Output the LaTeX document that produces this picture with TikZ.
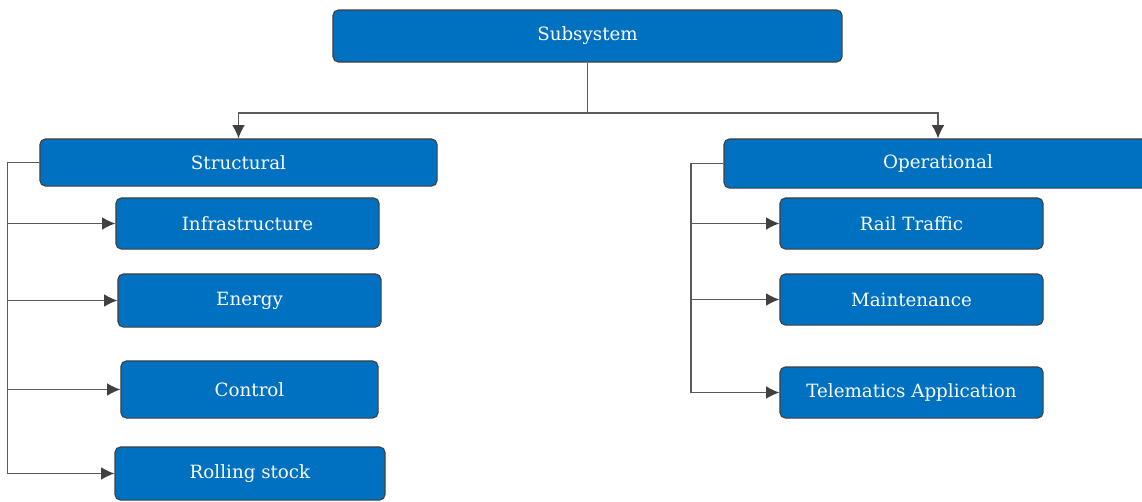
\documentclass[tikz,border=0pt]{standalone}
\usepackage{fontspec}
\newfontfamily\boxfont{DejaVu Serif}
\usetikzlibrary{arrows.meta,calc,positioning}
\definecolor{boxblue}{HTML}{0070C0}
\definecolor{boxedge}{HTML}{404040}
\definecolor{linegray}{HTML}{5A5A5A}

\begin{document}
\begin{tikzpicture}[>=Latex, x=0.75pt, y=-0.75pt,
  box/.style={draw=boxedge, line width=0.8pt, fill=boxblue, rounded corners=4pt,
    text=white, font=\boxfont\fontsize{13.7}{16}\selectfont, inner sep=0pt},
  link/.style={draw=linegray, line width=1pt},
  arr/.style={link, -{Latex[length=10pt,width=9.5pt,color=boxedge]}}]
  \useasboundingbox (0,0) rectangle (1142,501);

  % Top level
  \node[box, minimum width=381.8pt, minimum height=39pt] (sub) at (587.5,36) {Subsystem};

  % Two branches
  \node[box, minimum width=297.8pt, minimum height=35.3pt] (str) at (238.5,162.5) {Structural};
  \node[box, minimum width=321pt, minimum height=36.8pt] (ope) at (938,163.5) {Operational};

  % Structural children
  \node[box, minimum width=197.3pt, minimum height=38.3pt] (inf) at (247.5,223.5) {Infrastructure};
  \node[box, minimum width=197.3pt, minimum height=39.8pt] (ene) at (249.5,300.5) {Energy};
  \node[box, minimum width=192.8pt, minimum height=42.8pt] (con) at (249.5,389.5) {Control};
  \node[box, minimum width=202.5pt, minimum height=39.8pt] (rol) at (250,473.5) {Rolling stock};

  % Operational children
  \node[box, minimum width=197.3pt, minimum height=38.3pt] (rai) at (911.5,223.5) {Rail Traffic};
  \node[box, minimum width=197.3pt, minimum height=38.3pt] (mai) at (911.5,299.5) {Maintenance};
  \node[box, minimum width=197.3pt, minimum height=38.3pt] (tel) at (911.5,392.5) {Telematics Application};

  % Fork from the top box
  \draw[link] (sub.south) -- ++(0,50.5) coordinate (fork);
  \draw[arr] (fork) -| (str.north);
  \draw[arr] (fork) -| (ope.north);

  % Left bus
  \coordinate (lbus) at (7.5,162.5);
  \draw[link] (str.west) -- (lbus) -- (lbus |- rol.west);
  \foreach \n in {inf,ene,con,rol}
    \draw[arr] (lbus |- \n.west) -- (\n.west);

  % Right bus
  \coordinate (rbus) at (691,163.5);
  \draw[link] (ope.west) -- (rbus) -- (rbus |- tel.west);
  \foreach \n in {rai,mai,tel}
    \draw[arr] (rbus |- \n.west) -- (\n.west);
\end{tikzpicture}
\end{document}
